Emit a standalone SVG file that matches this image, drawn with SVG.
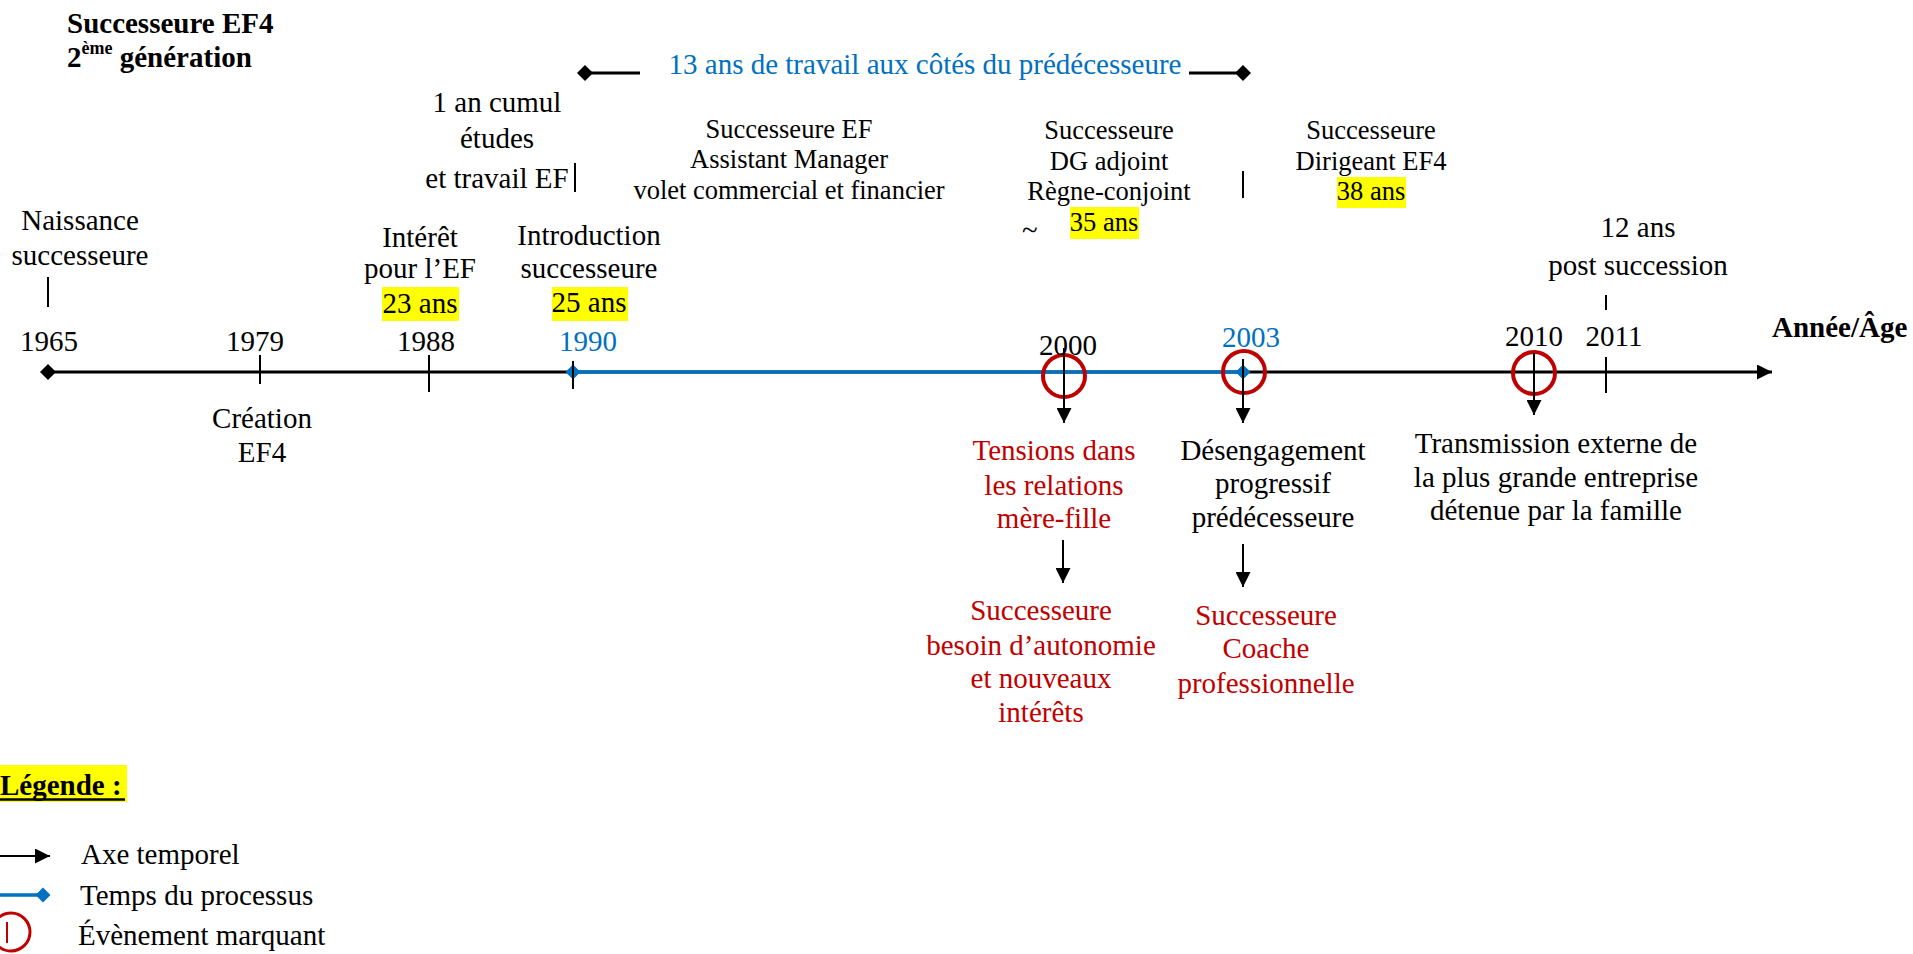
<svg xmlns="http://www.w3.org/2000/svg" width="1913" height="954" viewBox="0 0 1913 954">
  <defs>
    <style>
      text { font-family: "Liberation Serif", "Times New Roman", serif; font-size: 29px; fill: #000; }
      .c { text-anchor: middle; }
      .sm { font-size: 26.5px; }
      .b { font-weight: bold; }
      .blue { fill: #0070C0; }
      .red { fill: #C00000; }
      .hl { fill: #FFFF00; }
      .ln { stroke: #000; stroke-width: 3; fill: none; }
      .tk { stroke: #000; stroke-width: 2; fill: none; }
      .bl { stroke: #0070C0; stroke-width: 3.5; fill: none; }
      .ev { stroke: #C00000; stroke-width: 4; fill: none; }
    </style>
    <marker id="arr" viewBox="0 0 10 10" refX="10" refY="5" markerWidth="15" markerHeight="15" markerUnits="userSpaceOnUse" orient="auto">
      <path d="M0,0 L10,5 L0,10 Z" fill="#000"/>
    </marker>
    <path id="dia" d="M-8,0 L0,-8 L8,0 L0,8 Z"/>
    <path id="dia-s" d="M-7.5,0 L0,-7.5 L7.5,0 L0,7.5 Z"/>
  </defs>

  <rect width="1913" height="954" fill="#fff"/>

  <!-- heading -->
  <g id="title">
    <text class="b" x="67" y="33">Successeure EF4</text>
    <text class="b" x="67" y="67">2<tspan font-size="18" dy="-13">ème</tspan><tspan dy="13"> génération</tspan></text>
  </g>

  <!-- connectors: time axis, process span, ticks and arrows -->
  <g id="connectors">
    <line class="ln" x1="48" y1="372" x2="1772" y2="372" marker-end="url(#arr)"/>
    <use href="#dia" x="48" y="372" fill="#000"/>
    <line class="bl" x1="573" y1="372" x2="1243" y2="372"/>
    <use href="#dia-s" x="573" y="372" fill="#0070C0"/>
    <use href="#dia-s" x="1243" y="372" fill="#0070C0"/>

    <line class="tk" x1="48" y1="277" x2="48" y2="307"/>
    <line class="tk" x1="260" y1="355" x2="260" y2="384"/>
    <line class="tk" x1="429" y1="355" x2="429" y2="392"/>
    <line class="tk" x1="573" y1="361" x2="573" y2="389"/>
    <line class="tk" x1="1606" y1="357" x2="1606" y2="393"/>
    <line class="tk" x1="1606" y1="295" x2="1606" y2="310"/>
    <line class="tk" x1="575" y1="163" x2="575" y2="192"/>
    <line class="tk" x1="1243" y1="171" x2="1243" y2="198"/>

    <!-- span of work alongside the predecessor -->
    <line class="ln" x1="585" y1="73" x2="640" y2="73"/>
    <use href="#dia" x="585" y="73" fill="#000"/>
    <line class="ln" x1="1189" y1="73" x2="1243" y2="73"/>
    <use href="#dia" x="1243" y="73" fill="#000"/>

    <!-- key events -->
    <circle class="ev" cx="1064" cy="376" r="21"/>
    <circle class="ev" cx="1244" cy="372" r="21"/>
    <circle class="ev" cx="1534" cy="373" r="21"/>
    <line class="tk" x1="1064" y1="348" x2="1064" y2="423" marker-end="url(#arr)"/>
    <line class="tk" x1="1243" y1="359" x2="1243" y2="423" marker-end="url(#arr)"/>
    <line class="tk" x1="1534" y1="353" x2="1534" y2="415" marker-end="url(#arr)"/>
    <line class="tk" x1="1063" y1="540" x2="1063" y2="583" marker-end="url(#arr)"/>
    <line class="tk" x1="1243" y1="544" x2="1243" y2="587" marker-end="url(#arr)"/>
  </g>

  <!-- year labels -->
  <g id="years">
    <text class="c" x="49" y="351">1965</text>
    <text class="c" x="255" y="351">1979</text>
    <text class="c" x="426" y="351">1988</text>
    <text class="c blue" x="588" y="351">1990</text>
    <text class="c" x="1068" y="355">2000</text>
    <text class="c blue" x="1251" y="347">2003</text>
    <text class="c" x="1534" y="346">2010</text>
    <text class="c" x="1614" y="346">2011</text>
    <text class="b" x="1772" y="337">Année/Âge</text>
  </g>

  <g id="naissance">
    <text class="c" x="80" y="230">Naissance</text>
    <text class="c" x="80" y="265">successeure</text>
  </g>

  <g id="creation">
    <text class="c" x="262" y="428">Création</text>
    <text class="c" x="262" y="462">EF4</text>
  </g>

  <g id="interet">
    <rect class="hl" x="382" y="287" width="77" height="34"/>
    <text class="c" x="420" y="247">Intérêt</text>
    <text class="c" x="420" y="278">pour l’EF</text>
    <text class="c" x="420" y="313">23 ans</text>
  </g>

  <g id="cumul">
    <text class="c" x="497" y="112">1 an cumul</text>
    <text class="c" x="497" y="148">études</text>
    <text class="c" x="497" y="188">et travail EF</text>
  </g>

  <g id="introduction">
    <rect class="hl" x="552" y="287" width="76" height="34"/>
    <text class="c" x="589" y="245">Introduction</text>
    <text class="c" x="589" y="278">successeure</text>
    <text class="c" x="589" y="312">25 ans</text>
  </g>

  <g id="travail">
    <text class="c blue" x="925" y="74" font-size="30">13 ans de travail aux côtés du prédécesseure</text>
  </g>

  <g id="assistant">
    <text class="c sm" x="789" y="138">Successeure EF</text>
    <text class="c sm" x="789" y="168">Assistant Manager</text>
    <text class="c sm" x="789" y="199">volet commercial et financier</text>
  </g>

  <g id="dg-adjoint">
    <rect class="hl" x="1070" y="207" width="69" height="32"/>
    <text class="c sm" x="1109" y="139">Successeure</text>
    <text class="c sm" x="1109" y="170">DG adjoint</text>
    <text class="c sm" x="1109" y="200">Règne-conjoint</text>
    <text class="c sm" x="1104" y="231">35 ans</text>
    <text x="1022" y="240" font-size="12">~</text>
  </g>

  <g id="dirigeant">
    <rect class="hl" x="1337" y="177" width="69" height="31"/>
    <text class="c sm" x="1371" y="139">Successeure</text>
    <text class="c sm" x="1371" y="170">Dirigeant EF4</text>
    <text class="c sm" x="1371" y="200">38 ans</text>
  </g>

  <g id="post-succession">
    <text class="c" x="1638" y="237">12 ans</text>
    <text class="c" x="1638" y="275">post succession</text>
  </g>

  <g id="tensions">
    <text class="c red" x="1054" y="460">Tensions dans</text>
    <text class="c red" x="1054" y="495">les relations</text>
    <text class="c red" x="1054" y="528">mère-fille</text>
  </g>

  <g id="autonomie">
    <text class="c red" x="1041" y="620">Successeure</text>
    <text class="c red" x="1041" y="655">besoin d’autonomie</text>
    <text class="c red" x="1041" y="688">et nouveaux</text>
    <text class="c red" x="1041" y="722">intérêts</text>
  </g>

  <g id="desengagement">
    <text class="c" x="1273" y="460">Désengagement</text>
    <text class="c" x="1273" y="493">progressif</text>
    <text class="c" x="1273" y="527">prédécesseure</text>
  </g>

  <g id="coache">
    <text class="c red" x="1266" y="625">Successeure</text>
    <text class="c red" x="1266" y="658">Coache</text>
    <text class="c red" x="1266" y="693">professionnelle</text>
  </g>

  <g id="transmission">
    <text class="c" x="1556" y="453">Transmission externe de</text>
    <text class="c" x="1556" y="487">la plus grande entreprise</text>
    <text class="c" x="1556" y="520">détenue par la famille</text>
  </g>

  <!-- key -->
  <g id="legende">
    <rect class="hl" x="0" y="765" width="127" height="37"/>
    <text class="b" x="0" y="795">Légende :</text>
    <line x1="0" y1="799.5" x2="125" y2="799.5" stroke="#000" stroke-width="2.5"/>

    <line class="tk" x1="0" y1="856" x2="50" y2="856" marker-end="url(#arr)"/>
    <text x="81" y="864">Axe temporel</text>

    <line class="bl" x1="0" y1="895" x2="43" y2="895"/>
    <use href="#dia-s" x="43" y="895" fill="#0070C0"/>
    <text x="80" y="905">Temps du processus</text>

    <circle cx="11" cy="932" r="19" fill="none" stroke="#C00000" stroke-width="3"/>
    <line x1="7" y1="922" x2="7" y2="943" stroke="#C00000" stroke-width="2"/>
    <text x="78" y="945">Évènement marquant</text>
  </g>
</svg>
